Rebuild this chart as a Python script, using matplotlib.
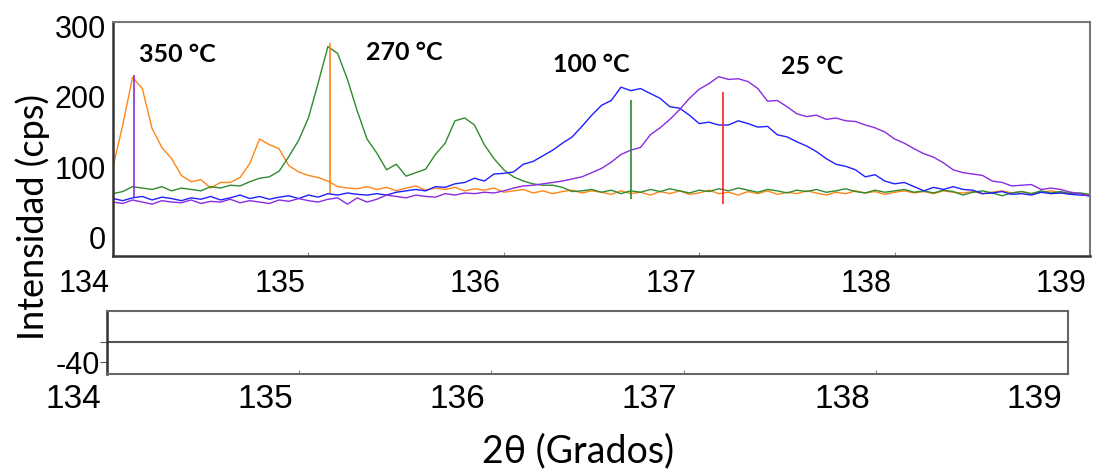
import matplotlib.pyplot as plt
import matplotlib.transforms as mtransforms

# posiciones 2theta (grados), muestreo cada 0.05
two_theta = [
    134.00, 134.05, 134.10, 134.15, 134.20, 134.25, 134.30, 134.35, 134.40, 134.45,
    134.50, 134.55, 134.60, 134.65, 134.70, 134.75, 134.80, 134.85, 134.90, 134.95,
    135.00, 135.05, 135.10, 135.15, 135.20, 135.25, 135.30, 135.35, 135.40, 135.45,
    135.50, 135.55, 135.60, 135.65, 135.70, 135.75, 135.80, 135.85, 135.90, 135.95,
    136.00, 136.05, 136.10, 136.15, 136.20, 136.25, 136.30, 136.35, 136.40, 136.45,
    136.50, 136.55, 136.60, 136.65, 136.70, 136.75, 136.80, 136.85, 136.90, 136.95,
    137.00, 137.05, 137.10, 137.15, 137.20, 137.25, 137.30, 137.35, 137.40, 137.45,
    137.50, 137.55, 137.60, 137.65, 137.70, 137.75, 137.80, 137.85, 137.90, 137.95,
    138.00, 138.05, 138.10, 138.15, 138.20, 138.25, 138.30, 138.35, 138.40, 138.45,
    138.50, 138.55, 138.60, 138.65, 138.70, 138.75, 138.80, 138.85, 138.90, 138.95,
    139.00,
]

# intensidades (cps)
i_350 = [
    100, 160, 228, 212, 155, 128, 112, 88, 79, 82,
    70, 78, 78, 85, 105, 140, 132, 126, 102, 93,
    88, 85, 80, 72, 70, 69, 72, 68, 71, 66,
    70, 73, 67, 70, 68, 71, 66, 69, 67, 70,
    64, 66, 68, 63, 66, 62, 65, 67, 63, 66,
    64, 61, 66, 62, 64, 60, 65, 62, 66, 61,
    63, 67, 62, 64, 60, 65, 62, 66, 61, 64,
    62, 66, 63, 60, 64, 62, 66, 63, 65, 61,
    64, 66, 63, 65, 62, 66, 64, 63, 65, 62,
    64, 66, 63, 65, 62, 64, 66, 63, 64, 62,
    60,
]
i_270 = [
    62, 65, 72, 70, 68, 72, 66, 70, 68, 66,
    72, 70, 74, 73, 79, 84, 86, 94, 115, 138,
    170, 220, 272, 262, 225, 180, 140, 120, 96, 104,
    87, 92, 97, 118, 134, 166, 170, 160, 132, 112,
    96, 86, 80, 76, 74, 74, 71, 65, 66, 68,
    64, 67, 62, 66, 64, 68, 65, 69, 66, 63,
    67, 65, 69, 66, 70, 67, 64, 68, 66, 63,
    67, 65, 68, 64, 66, 69, 65, 63, 67, 64,
    66, 68, 64, 66, 63, 67, 65, 60, 64, 66,
    63, 59, 63, 65, 62, 66, 63, 65, 62, 63,
    61,
]
i_100 = [
    55, 52, 56, 58, 53, 57, 55, 52, 56, 54,
    58, 53, 56, 60, 55, 58, 54, 57, 59, 55,
    60, 57, 62, 60, 63, 61, 60, 62, 60, 64,
    66, 68, 66, 72, 71, 76, 78, 84, 80, 90,
    91, 93, 104, 108, 116, 124, 134, 143, 158, 174,
    188, 195, 214, 209, 212, 205, 198, 186, 184, 174,
    162, 164, 160, 160, 166, 162, 157, 158, 146, 143,
    136, 130, 122, 112, 104, 101, 96, 86, 89, 80,
    76, 78, 72, 66, 71, 68, 72, 68, 67, 62,
    63, 65, 61, 62, 60, 64, 62, 63, 61, 60,
    59,
]
i_25 = [
    50, 48, 53, 50, 47, 52, 50, 49, 53, 48,
    51, 50, 54, 49, 52, 50, 48, 53, 51, 55,
    52, 50, 54, 56, 47, 56, 50, 54, 60, 58,
    56, 60, 58, 57, 62, 60, 63, 62, 64, 63,
    66, 70, 73, 74, 76, 78, 80, 83, 86, 92,
    98, 107, 118, 124, 128, 146, 156, 168, 182, 198,
    211, 219, 229, 225, 226, 222, 212, 194, 195, 186,
    176, 172, 174, 168, 170, 166, 165, 160, 156, 150,
    140, 134, 126, 119, 114, 106, 96, 92, 90, 88,
    80, 78, 73, 74, 75, 68, 70, 68, 64, 62,
    58,
]

series_colors = ["#ff8517", "#2e8b2e", "#1f1fff", "#8a2be2"]

# lineas verticales que marcan los picos
peak_x = [134.11, 135.11, 136.65, 137.12]
peak_top = [231, 277, 196, 207]
peak_bottom = [57, 63, 54, 47]
peak_colors = ["#8a2be2", "#ff8517", "#2e8b2e", "#ff2020"]

temp_labels = ["350 °C", "270 °C", "100 °C", "25 °C"]
label_x = [134.33, 135.49, 136.45, 137.58]
label_y = [261, 263, 246, 243]

x_ticks = [134, 135, 136, 137, 138, 139]
y_ticks = [0, 100, 200, 300]

tick_font = ["Liberation Sans Narrow", "Liberation Sans", "DejaVu Sans"]
label_font = ["Lato", "DejaVu Sans"]

fig = plt.figure(figsize=(10.96, 4.72), dpi=100)
ax = fig.add_axes([0.1031, 0.4576, 0.8914, 0.4958])
ax_r = fig.add_axes([0.0976, 0.2076, 0.8769, 0.1335])

# curvas
for serie, color in zip([i_350, i_270, i_100, i_25], series_colors):
    ax.plot(two_theta, serie, color=color, lw=1.0)
ax.vlines(peak_x, peak_bottom, peak_top, colors=peak_colors, lw=1.2)

for t, x, y in zip(temp_labels, label_x, label_y):
    ax.text(x, y, t, ha="center", va="center", fontsize=18, fontweight="bold",
            family=label_font)

ax.set_xlim(134, 139)
ax.set_ylim(-27, 307)
ax.set_xticks(x_ticks)
ax.set_yticks(y_ticks)
ax.tick_params(axis="x", direction="in", length=3, color="#888888", pad=9)
ax.tick_params(axis="y", length=0, pad=5)
ax.set_xticklabels([str(t) for t in x_ticks], fontsize=22, family=tick_font, ha="right")
ax.set_yticklabels([str(t) for t in y_ticks], fontsize=22, family=tick_font)
for lab in ax.get_xticklabels():
    lab.set_transform(lab.get_transform() + mtransforms.ScaledTranslation(-0.03, 0, fig.dpi_scale_trans))
for side in ["top", "right"]:
    ax.spines[side].set_color("#777777")
    ax.spines[side].set_linewidth(1.5)
for side in ["left", "bottom"]:
    ax.spines[side].set_color("#333333")
    ax.spines[side].set_linewidth(1.8)

# panel de residuos
ax_r.axhline(0, color="#555555", lw=1.5)
ax_r.set_xlim(134, 139)
ax_r.set_ylim(-64, 62)
ax_r.set_xticks(x_ticks)
ax_r.set_yticks([-40, 0])
ax_r.tick_params(axis="x", direction="in", length=3, color="#888888", pad=7)
ax_r.tick_params(axis="y", length=5, color="#555555", pad=0)
ax_r.set_xticklabels([str(t) for t in x_ticks], fontsize=24, family=tick_font, ha="right")
ax_r.set_yticklabels(["-40", ""], fontsize=22, family=tick_font)
for lab in ax_r.get_xticklabels():
    lab.set_transform(lab.get_transform() + mtransforms.ScaledTranslation(-0.06, 0, fig.dpi_scale_trans))
for side in ["top", "right", "bottom"]:
    ax_r.spines[side].set_color("#666666")
    ax_r.spines[side].set_linewidth(1.5)
ax_r.spines["left"].set_color("#333333")
ax_r.spines["left"].set_linewidth(1.8)

fig.text(0.030, 0.540, "Intensidad (cps)", rotation=90, ha="center", va="center",
         fontsize=26, family=label_font)
fig.text(0.527, 0.043, "2θ (Grados)", ha="center", va="center",
         fontsize=27, family=label_font)

fig.savefig("out.png", dpi=100)
